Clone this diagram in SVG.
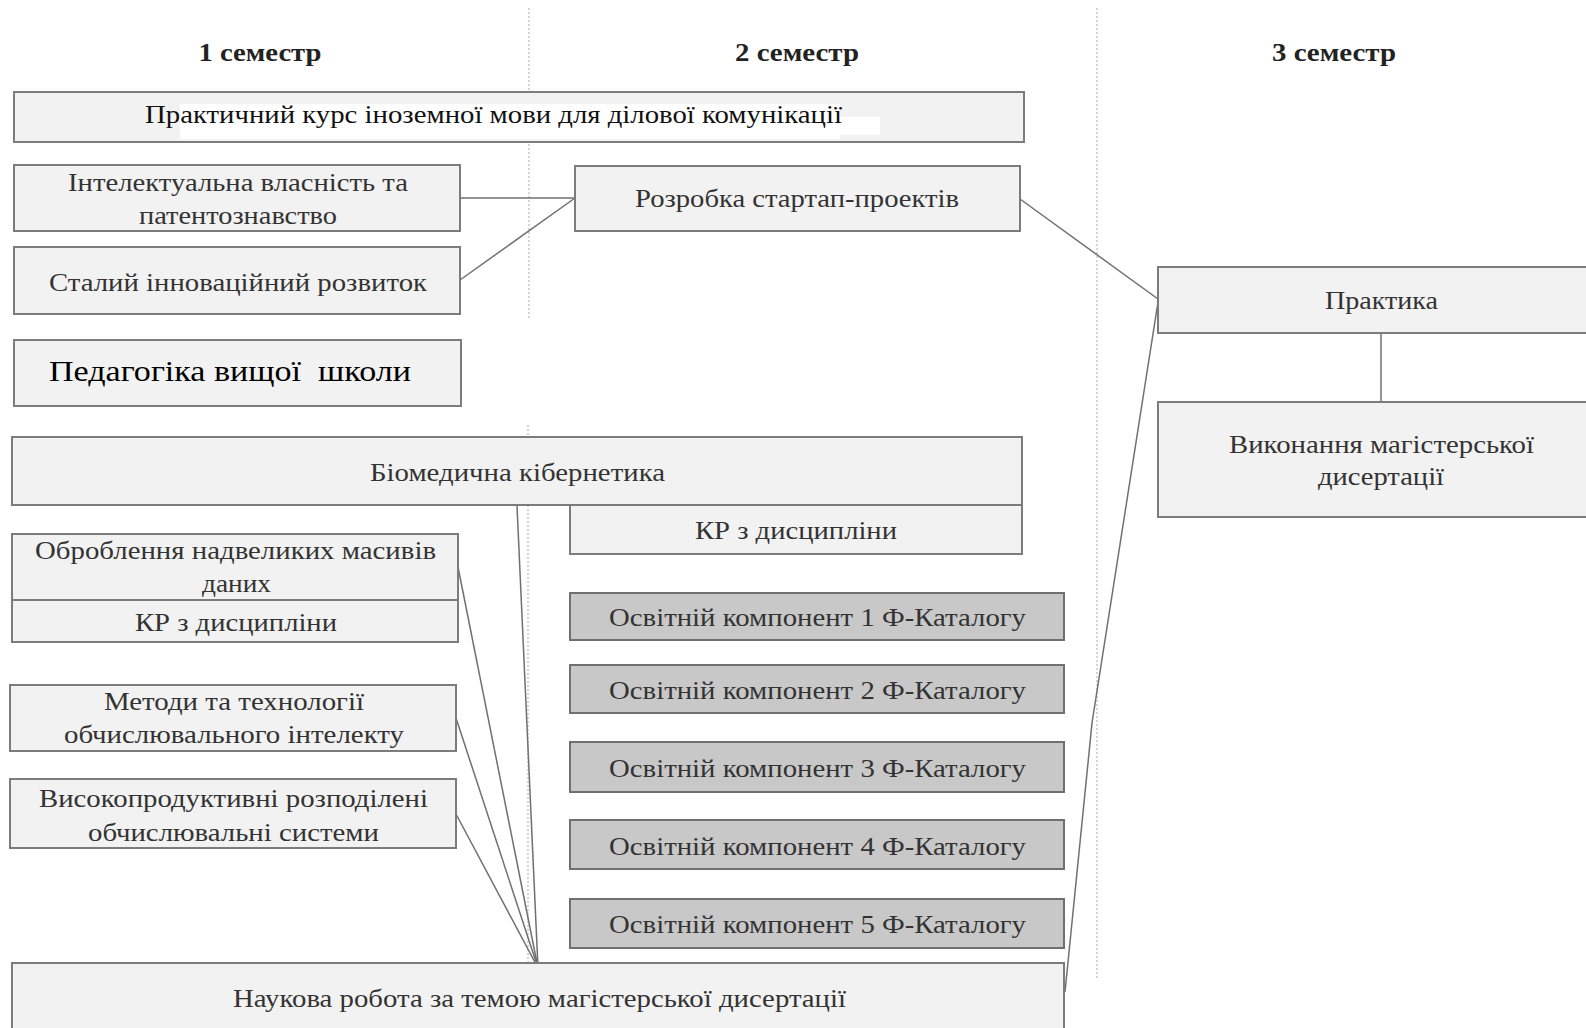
<svg xmlns="http://www.w3.org/2000/svg" width="1586" height="1028" viewBox="0 0 1586 1028">
<style>
  .bg { fill: #ffffff; }
  .box { fill: #f2f2f2; stroke: #7c7c7c; stroke-width: 2; }
  .dark { fill: #c8c8c8; stroke: #707070; stroke-width: 2; }
  .t { font-family: "Liberation Serif", "Times New Roman", serif; font-size: 26px; fill: #333333; text-anchor: middle; }
  .h { font-family: "Liberation Serif", "Times New Roman", serif; font-size: 26px; font-weight: bold; fill: #222222; text-anchor: middle; }
  .big { font-family: "Liberation Serif", "Times New Roman", serif; font-size: 30px; fill: #000000; text-anchor: middle; }
  .blk { fill: #111111; }
  .sep { stroke: #c8c8c8; stroke-width: 1.5; stroke-dasharray: 2 2; fill: none; }
  .con { stroke: #707070; stroke-width: 1.5; fill: none; }
</style>
<rect class="bg" x="0" y="0" width="1586" height="1028"/>

<g id="separators">
  <line class="sep" x1="529" y1="8" x2="529" y2="318"/>
  <line class="sep" x1="528" y1="425" x2="528" y2="962"/>
  <line class="sep" x1="1097" y1="8" x2="1097" y2="978"/>
</g>

<g id="headers">
  <text class="h" x="260" y="61" textLength="123" lengthAdjust="spacingAndGlyphs">1 семестр</text>
  <text class="h" x="797" y="61" textLength="124" lengthAdjust="spacingAndGlyphs">2 семестр</text>
  <text class="h" x="1334" y="61" textLength="124" lengthAdjust="spacingAndGlyphs">3 семестр</text>
</g>

<g id="connectors">
  <polyline class="con" points="460,198 575,198"/>
  <polyline class="con" points="460,280 575,198"/>
  <polyline class="con" points="1020,199 1158,299"/>
  <polyline class="con" points="1158,302 1092,723 1065,992"/>
  <polyline class="con" points="1381,333 1381,402"/>
  <polyline class="con" points="517,506 538,968"/>
  <polyline class="con" points="458,567 538,968"/>
  <polyline class="con" points="456,718 538,968"/>
  <polyline class="con" points="456,814 538,968"/>
</g>

<g id="n-praktychnyi">
  <rect class="box" x="14" y="92" width="1010" height="50"/>
  <rect x="180" y="104" width="660" height="35" fill="#ffffff"/>
  <rect x="840" y="117" width="40" height="18" fill="#ffffff"/>
  <text class="t blk" x="493.5" y="123" textLength="697" lengthAdjust="spacingAndGlyphs">Практичний курс іноземної мови для ділової комунікації</text>
</g>

<g id="n-intelekt">
  <rect class="box" x="14" y="165" width="446" height="66"/>
  <text class="t" x="238" y="191" textLength="340" lengthAdjust="spacingAndGlyphs">Інтелектуальна власність та</text>
  <text class="t" x="238" y="224" textLength="198" lengthAdjust="spacingAndGlyphs">патентознавство</text>
</g>

<g id="n-stalyi">
  <rect class="box" x="14" y="247" width="446" height="67"/>
  <text class="t" x="238" y="291" textLength="378" lengthAdjust="spacingAndGlyphs">Сталий інноваційний розвиток</text>
</g>

<g id="n-pedagogika">
  <rect class="box" x="14" y="340" width="447" height="66"/>
  <text class="big" x="230" y="381" textLength="362" lengthAdjust="spacingAndGlyphs">Педагогіка вищої&#160; школи</text>
</g>

<g id="n-rozrobka">
  <rect class="box" x="575" y="166" width="445" height="65"/>
  <text class="t" x="797" y="207" textLength="324" lengthAdjust="spacingAndGlyphs">Розробка стартап-проектів</text>
</g>

<g id="n-praktyka">
  <rect class="box" x="1158" y="267" width="440" height="66"/>
  <text class="t" x="1381.5" y="309" textLength="113" lengthAdjust="spacingAndGlyphs">Практика</text>
</g>

<g id="n-vykonannia">
  <rect class="box" x="1158" y="402" width="440" height="115"/>
  <text class="t" x="1381.5" y="453" textLength="305" lengthAdjust="spacingAndGlyphs">Виконання магістерської</text>
  <text class="t" x="1381" y="485" textLength="126" lengthAdjust="spacingAndGlyphs">дисертації</text>
</g>

<g id="n-biomed">
  <rect class="box" x="12" y="437" width="1010" height="68"/>
  <text class="t" x="517.5" y="481" textLength="295" lengthAdjust="spacingAndGlyphs">Біомедична кібернетика</text>
</g>

<g id="n-kr2">
  <rect class="box" x="570" y="505" width="452" height="49"/>
  <text class="t" x="796" y="539" textLength="202" lengthAdjust="spacingAndGlyphs">КР з дисципліни</text>
</g>

<g id="n-obroblennia">
  <rect class="box" x="12" y="534" width="446" height="66"/>
  <text class="t" x="235.5" y="559" textLength="401" lengthAdjust="spacingAndGlyphs">Оброблення надвеликих масивів</text>
  <text class="t" x="236.5" y="592" textLength="69" lengthAdjust="spacingAndGlyphs">даних</text>
</g>

<g id="n-kr1">
  <rect class="box" x="12" y="600" width="446" height="42"/>
  <text class="t" x="236" y="631" textLength="202" lengthAdjust="spacingAndGlyphs">КР з дисципліни</text>
</g>

<g id="n-metody">
  <rect class="box" x="10" y="685" width="446" height="66"/>
  <text class="t" x="234" y="710" textLength="260" lengthAdjust="spacingAndGlyphs">Методи та технології</text>
  <text class="t" x="234" y="743" textLength="340" lengthAdjust="spacingAndGlyphs">обчислювального інтелекту</text>
</g>

<g id="n-vysoko">
  <rect class="box" x="10" y="779" width="446" height="69"/>
  <text class="t" x="233.5" y="807" textLength="389" lengthAdjust="spacingAndGlyphs">Високопродуктивні розподілені</text>
  <text class="t" x="233.5" y="841" textLength="291" lengthAdjust="spacingAndGlyphs">обчислювальні системи</text>
</g>

<g id="n-ok1">
  <rect class="dark" x="570" y="593" width="494" height="47"/>
  <text class="t" x="817.5" y="626" textLength="417" lengthAdjust="spacingAndGlyphs">Освітній компонент 1 Ф-Каталогу</text>
</g>
<g id="n-ok2">
  <rect class="dark" x="570" y="665" width="494" height="48"/>
  <text class="t" x="817.5" y="699" textLength="417" lengthAdjust="spacingAndGlyphs">Освітній компонент 2 Ф-Каталогу</text>
</g>
<g id="n-ok3">
  <rect class="dark" x="570" y="742" width="494" height="50"/>
  <text class="t" x="817.5" y="777" textLength="417" lengthAdjust="spacingAndGlyphs">Освітній компонент 3 Ф-Каталогу</text>
</g>
<g id="n-ok4">
  <rect class="dark" x="570" y="820" width="494" height="49"/>
  <text class="t" x="817.5" y="855" textLength="417" lengthAdjust="spacingAndGlyphs">Освітній компонент 4 Ф-Каталогу</text>
</g>
<g id="n-ok5">
  <rect class="dark" x="570" y="899" width="494" height="49"/>
  <text class="t" x="817.5" y="933" textLength="417" lengthAdjust="spacingAndGlyphs">Освітній компонент 5 Ф-Каталогу</text>
</g>

<g id="n-naukova">
  <rect class="box" x="12" y="963" width="1052" height="75"/>
  <text class="t" x="539.5" y="1007" textLength="613" lengthAdjust="spacingAndGlyphs">Наукова робота за темою магістерської дисертації</text>
</g>
</svg>
